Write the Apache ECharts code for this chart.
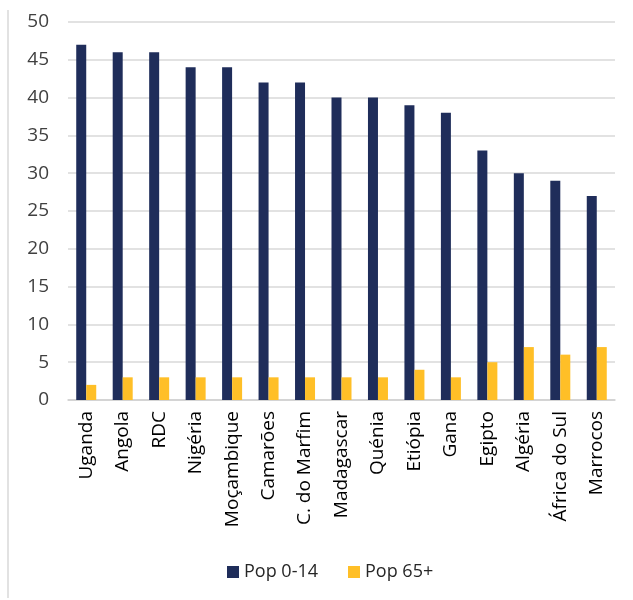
<!DOCTYPE html>
<html>
<head>
<meta charset="utf-8">
<script src="https://cdn.jsdelivr.net/npm/echarts@6/dist/echarts.min.js"></script>
<style>
  html, body { margin: 0; padding: 0; background: #ffffff; }
  #main { width: 633px; height: 600px; }
</style>
</head>
<body>
<div id="main"></div>
<script>
var countries = ['Uganda', 'Angola', 'RDC', 'Nigéria', 'Moçambique', 'Camarões', 'C. do Marfim',
    'Madagascar', 'Quénia', 'Etiópia', 'Gana', 'Egipto', 'Algéria', 'África do Sul', 'Marrocos'];
var pop014 = [47, 46, 46, 44, 44, 42, 42, 40, 40, 39, 38, 33, 30, 29, 27];
var pop65 = [2, 3, 3, 3, 3, 3, 3, 3, 3, 4, 3, 5, 7, 6, 7];

var chartDom = document.getElementById('main');
var myChart = echarts.init(chartDom);
var textFont = 'Open Sans';

var option = {
    animation: false,
    backgroundColor: '#ffffff',
    graphic: [{
        type: 'line',
        shape: { x1: 8, y1: 10, x2: 8, y2: 598 },
        style: { stroke: '#d9d9d9', lineWidth: 1.5 }
    }],
    legend: {
        bottom: 14,
        left: 222,
        itemWidth: 12,
        itemHeight: 12,
        itemGap: 30,
        icon: 'rect',
        textStyle: { color: '#262626', fontSize: 18, fontFamily: textFont },
        data: ['Pop 0-14', 'Pop 65+']
    },
    grid: {
        left: 68,
        right: 18,
        top: 22,
        bottom: 200
    },
    xAxis: {
        type: 'category',
        data: countries,
        axisTick: { show: false },
        axisLine: { lineStyle: { color: '#d0d0d0', width: 1.5 } },
        axisLabel: {
            rotate: 90,
            interval: 0,
            margin: 11,
            color: '#000000',
            fontSize: 19,
            fontFamily: textFont
        }
    },
    yAxis: {
        type: 'value',
        min: 0,
        max: 50,
        interval: 5,
        axisLine: { show: false },
        axisTick: { show: false },
        splitLine: { lineStyle: { color: '#d9d9d9', width: 1.5 } },
        axisLabel: {
            margin: 19,
            color: '#404040',
            fontSize: 19,
            fontFamily: textFont
        }
    },
    series: [{
        name: 'Pop 0-14',
        type: 'bar',
        data: pop014,
        barWidth: 10,
        barGap: '0%',
        itemStyle: { color: '#1f2d5a' }
    },
    {
        name: 'Pop 65+',
        type: 'bar',
        data: pop65,
        barWidth: 10,
        itemStyle: { color: '#ffbf27' }
    }]
};

option && myChart.setOption(option);
</script>
</body>
</html>
